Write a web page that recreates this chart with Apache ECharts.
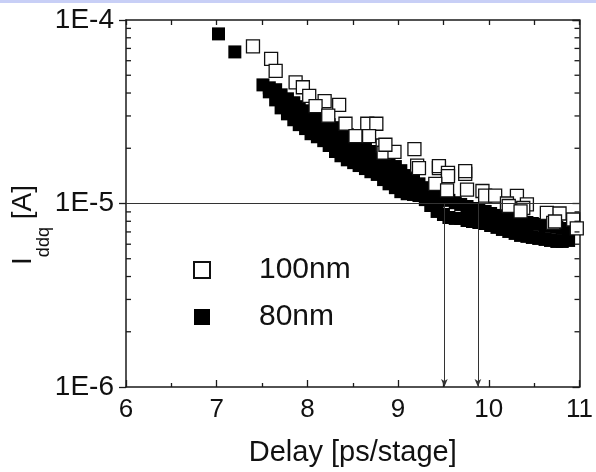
<!DOCTYPE html>
<html>
<head>
<meta charset="utf-8">
<script src="https://cdn.jsdelivr.net/npm/echarts@6/dist/echarts.min.js"></script>
<style>
  html, body { margin: 0; background: #fff; }
  #chart { width: 596px; height: 472px; }
</style>
</head>
<body>
<div id="chart"></div>
<script>
// 80nm (filled squares)
const delay80 = [
  7.02, 7.20,
  7.51, 7.58, 7.65, 7.71, 7.78, 7.85, 7.91, 7.98, 8.04, 8.11, 8.18, 8.24, 8.31, 8.37, 8.44, 8.51, 8.57,
  8.64, 8.70, 8.77, 8.84, 8.90, 8.97, 9.03, 9.10, 9.17, 9.23, 9.30, 9.36, 9.43, 9.50, 9.56, 9.63, 9.69,
  9.76, 9.82, 9.89, 9.96, 10.02, 10.09, 10.15, 10.22, 10.29, 10.35, 10.42, 10.48, 10.55, 10.62, 10.68,
  10.75, 10.81, 10.88,
  7.78, 7.85, 7.91, 7.98, 8.04, 8.11, 8.18, 8.24, 8.31, 8.37, 8.44, 8.51, 8.57, 8.64, 8.70, 8.77, 8.84,
  8.90, 8.97, 9.03, 9.10, 9.17, 9.23,
  7.58, 7.65, 7.71, 7.78, 7.85, 7.91, 7.98, 8.04, 8.11, 8.18, 8.24, 8.31, 8.37, 8.44, 8.51, 8.57, 8.64,
  8.70, 8.77, 8.84, 8.90, 8.97, 9.03, 9.10, 9.17, 9.23, 9.30, 9.36, 9.43, 9.50, 9.56, 9.63, 9.69, 9.76,
  9.82, 9.89, 9.96, 10.02, 10.09, 10.15, 10.22, 10.29, 10.35, 10.42, 10.48, 10.55, 10.62, 10.68, 10.75,
  10.81, 10.88
];
const iddq80 = [
  8.4e-5, 6.7e-5,
  4.43e-5, 4.27e-5, 4.17e-5, 3.91e-5, 3.72e-5, 3.54e-5, 3.37e-5, 3.20e-5, 3.08e-5, 2.97e-5, 2.83e-5,
  2.69e-5, 2.59e-5, 2.49e-5, 2.37e-5, 2.25e-5, 2.15e-5, 2.04e-5, 1.92e-5, 1.82e-5, 1.73e-5, 1.67e-5,
  1.59e-5, 1.51e-5, 1.42e-5, 1.35e-5, 1.28e-5, 1.22e-5, 1.15e-5, 1.105e-5, 1.065e-5, 1.04e-5, 1.01e-5,
  9.88e-6, 9.63e-6, 9.39e-6, 9.16e-6, 9.05e-6, 8.82e-6, 8.61e-6, 8.50e-6, 8.29e-6, 8.18e-6, 7.98e-6,
  7.88e-6, 7.78e-6, 7.69e-6, 7.59e-6, 7.50e-6, 7.41e-6, 7.31e-6, 7.22e-6,
  3.38e-5, 3.18e-5, 3.01e-5, 2.86e-5, 2.72e-5, 2.62e-5, 2.50e-5, 2.36e-5, 2.23e-5, 2.13e-5, 2.02e-5,
  1.94e-5, 1.86e-5, 1.78e-5, 1.69e-5, 1.62e-5, 1.53e-5, 1.46e-5, 1.39e-5, 1.32e-5, 1.27e-5, 1.23e-5,
  1.19e-5,
  4.06e-5, 3.67e-5, 3.32e-5, 3.08e-5, 2.86e-5, 2.69e-5, 2.56e-5, 2.40e-5, 2.31e-5, 2.20e-5, 2.07e-5,
  1.92e-5, 1.82e-5, 1.73e-5, 1.67e-5, 1.61e-5, 1.55e-5, 1.49e-5, 1.44e-5, 1.35e-5, 1.28e-5, 1.22e-5,
  1.16e-5, 1.13e-5, 1.12e-5, 1.105e-5, 1.05e-5, 9.75e-6, 9.05e-6, 8.71e-6, 8.39e-6, 8.29e-6, 8.29e-6,
  8.08e-6, 7.98e-6, 7.88e-6, 7.78e-6, 7.59e-6, 7.41e-6, 7.22e-6, 7.04e-6, 6.87e-6, 6.70e-6, 6.62e-6,
  6.53e-6, 6.45e-6, 6.37e-6, 6.29e-6, 6.21e-6, 6.21e-6, 6.29e-6
];

// 100nm (open squares)
const delay100 = [
  7.40, 7.60, 7.65, 7.87, 7.95, 8.02, 8.19, 8.35, 8.09, 8.23, 8.42, 8.66, 8.76, 8.53, 8.68, 8.83, 8.84,
  8.96, 8.86, 9.18, 9.21, 9.23, 9.45, 9.45, 9.55, 9.55, 9.74, 9.74, 9.41, 9.54, 9.76, 9.93, 9.96, 10.07,
  10.31, 10.42, 10.20, 10.22, 10.38, 10.35, 10.64, 10.78, 10.71, 10.73, 10.93, 10.97
];
const iddq100 = [
  7.18e-5, 6.14e-5, 5.28e-5, 4.57e-5, 4.30e-5, 3.86e-5, 3.61e-5, 3.45e-5, 3.39e-5, 3.01e-5, 2.72e-5,
  2.72e-5, 2.72e-5, 2.33e-5, 2.33e-5, 2.07e-5, 1.89e-5, 1.91e-5, 2.09e-5, 1.98e-5, 1.61e-5, 1.56e-5,
  1.56e-5, 1.60e-5, 1.47e-5, 1.41e-5, 1.45e-5, 1.50e-5, 1.28e-5, 1.18e-5, 1.19e-5, 1.17e-5, 1.105e-5,
  1.105e-5, 1.10e-5, 9.88e-6, 1.0e-5, 9.69e-6, 9.45e-6, 9.05e-6, 8.88e-6, 8.82e-6, 7.84e-6, 7.98e-6,
  8.18e-6, 7.31e-6
];

const seriesNames = ['100nm', '80nm'];
const xMin = 6, xMax = 11;
const yTickValues = [1e-6, 1e-5, 1e-4];
const yTickLabels = ['1E-6', '1E-5', '1E-4'];
const yMinorTicks = [2e-6, 3e-6, 4e-6, 5e-6, 6e-6, 7e-6, 8e-6, 9e-6, 2e-5, 3e-5, 4e-5, 5e-5, 6e-5, 7e-5, 8e-5, 9e-5];
const refLevel = 1e-5;        // horizontal line
const arrowDelays = [9.51, 9.88];

const font = '"Liberation Sans", Arial, sans-serif';
const axisColor = '#1a1a1a';

const chart = echarts.init(document.getElementById('chart'));

const toPairs = (xs, ys) => xs.map((x, i) => [x, ys[i]]);

chart.setOption({
  animation: false,
  backgroundColor: '#fff',
  textStyle: { fontFamily: font },
  grid: { left: 126, right: 15, top: 20, bottom: 84, containLabel: false },
  graphic: [
    { type: 'rect', left: 0, top: 0, shape: { width: 596, height: 3 }, style: { fill: '#c8cff6' } },
    {
      // y axis title with subscript
      type: 'text',
      x: 31, y: 225,
      rotation: Math.PI / 2,
      style: {
        text: '{a|I}{b|ddq}{c| [A]}',
        align: 'center',
        verticalAlign: 'middle',
        fill: '#111',
        rich: {
          a: { fontSize: 28, fontFamily: font, lineHeight: 44, verticalAlign: 'top', fill: '#111' },
          b: { fontSize: 18, fontFamily: font, lineHeight: 44, verticalAlign: 'bottom', fill: '#111' },
          c: { fontSize: 28, fontFamily: font, lineHeight: 44, verticalAlign: 'top', fill: '#111' }
        }
      }
    }
  ],
  legend: {
    data: seriesNames,
    orient: 'vertical',
    left: 188,
    top: 250,
    itemWidth: 16,
    itemHeight: 16,
    itemGap: 17,
    textStyle: { fontSize: 30, fontFamily: font, color: '#111', padding: [0, 0, 0, 44] }
  },
  xAxis: [
    {
      type: 'value', min: xMin, max: xMax, interval: 1, position: 'bottom',
      name: 'Delay [ps/stage]', nameLocation: 'middle', nameGap: 51,
      nameTextStyle: { fontSize: 29, color: '#111', fontFamily: font },
      axisLine: { lineStyle: { color: axisColor, width: 1.5 } },
      axisTick: { inside: true, length: 7, lineStyle: { color: axisColor, width: 1.3 } },
      minorTick: { show: true, splitNumber: 2, length: 4, lineStyle: { color: axisColor, width: 1.3 } },
      axisLabel: { fontSize: 26, color: '#111', margin: 10, fontFamily: font },
      splitLine: { show: false }
    },
    {
      type: 'value', min: xMin, max: xMax, interval: 0.5, position: 'top',
      axisLine: { show: true, lineStyle: { color: axisColor, width: 1.5 } },
      axisTick: { inside: true, length: 5, lineStyle: { color: axisColor, width: 1.3 } },
      axisLabel: { show: false },
      splitLine: { show: false }
    }
  ],
  yAxis: [
    {
      type: 'log', logBase: 10, min: 1e-6, max: 1e-4, position: 'left',
      axisLine: { show: true, lineStyle: { color: axisColor, width: 1.5 } },
      axisTick: { show: true, inside: false, length: 7, lineStyle: { color: axisColor, width: 1.3 } },
      axisLabel: {
        fontSize: 28, color: '#111', margin: 12, fontFamily: font,
        formatter: function (v) {
          const i = yTickValues.findIndex(t => Math.abs(Math.log10(t) - Math.log10(v)) < 1e-6);
          return i >= 0 ? yTickLabels[i] : '';
        }
      },
      splitLine: { show: false }
    },
    {
      type: 'log', logBase: 10, min: 1e-6, max: 1e-4, position: 'right',
      axisLine: { show: true, lineStyle: { color: axisColor, width: 1.5 } },
      axisTick: { show: true, inside: true, length: 7, lineStyle: { color: axisColor, width: 1.3 } },
      axisLabel: { show: false },
      splitLine: { show: false }
    }
  ],
  series: [
    {
      // reference line and arrows
      name: 'guides',
      type: 'scatter',
      data: [],
      z: 1,
      silent: true,
      markLine: {
        silent: true,
        animation: false,
        label: { show: false },
        lineStyle: { color: '#333', width: 1, type: 'solid' },
        symbol: ['none', 'none'],
        data: [
          [{ coord: [xMin, refLevel] }, { coord: [xMax, refLevel] }],
          [{ coord: [arrowDelays[0], refLevel], symbol: 'none' }, { coord: [arrowDelays[0], 1e-6], symbol: 'arrow', symbolSize: [5, 8] }],
          [{ coord: [arrowDelays[1], refLevel], symbol: 'none' }, { coord: [arrowDelays[1], 1e-6], symbol: 'arrow', symbolSize: [5, 8] }]
        ]
      }
    },
    {
      name: '80nm',
      type: 'scatter',
      symbol: 'rect',
      symbolSize: 13,
      z: 3,
      itemStyle: { color: '#000', opacity: 1 },
      emphasis: { disabled: true },
      data: toPairs(delay80, iddq80)
    },
    {
      name: '100nm',
      type: 'scatter',
      symbol: 'rect',
      symbolSize: 13,
      z: 4,
      itemStyle: { color: '#fff', borderColor: '#111', borderWidth: 1.3, opacity: 1 },
      emphasis: { disabled: true },
      data: toPairs(delay100, iddq100)
    },
    {
      // log minor ticks on left and right axes
      name: 'minorTicks',
      type: 'custom',
      silent: true,
      z: 5,
      clip: false,
      data: yMinorTicks.map(v => [xMin, v]),
      renderItem: function (params, api) {
        const v = api.value(1);
        const l = api.coord([xMin, v]);
        const r = api.coord([xMax, v]);
        const st = { stroke: axisColor, lineWidth: 1.3 };
        return {
          type: 'group',
          children: [
            { type: 'line', shape: { x1: l[0], y1: l[1], x2: l[0] + 5, y2: l[1] }, style: st },
            { type: 'line', shape: { x1: r[0], y1: r[1], x2: r[0] - 5, y2: r[1] }, style: st }
          ]
        };
      }
    }
  ]
});
</script>
</body>
</html>
